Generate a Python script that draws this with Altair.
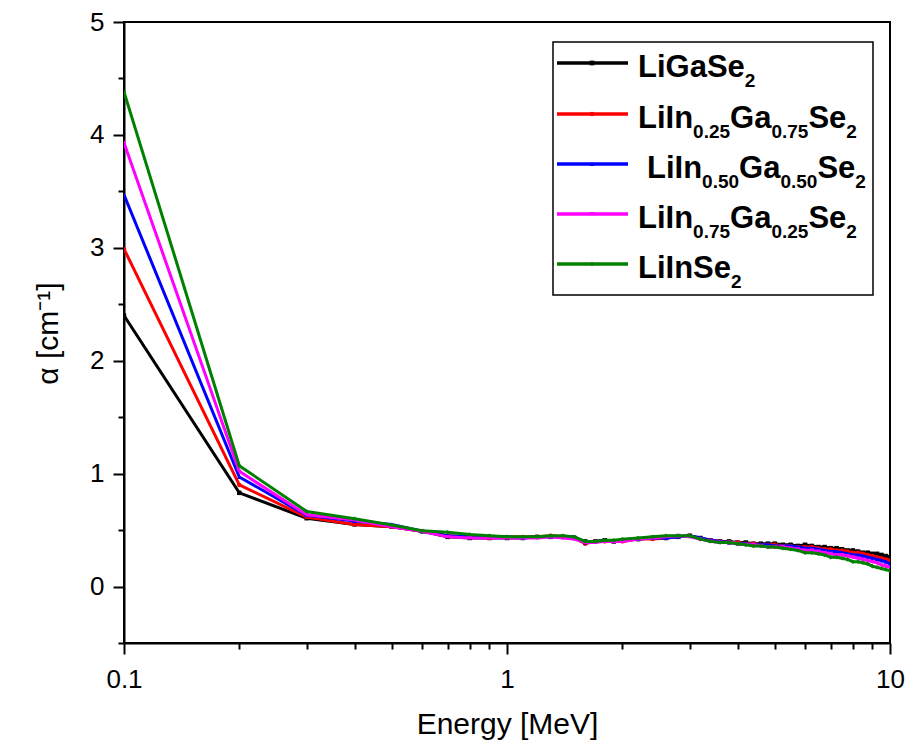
import altair as alt
import pandas as pd

# ---------------- data ----------------
energy = [0.1, 0.2, 0.3, 0.4, 0.5, 0.6, 0.7, 0.8, 0.9, 1.0,
          1.1, 1.2, 1.3, 1.4, 1.5, 1.6, 1.7, 1.8, 1.9, 2.0,
          2.2, 2.4, 2.6, 2.8, 3.0, 3.2, 3.4, 3.6, 3.8, 4.0, 4.2, 4.4, 4.6, 4.8, 5.0,
          5.25, 5.5, 5.75, 6.0, 6.25, 6.5, 6.75, 7.0, 7.25, 7.5, 7.75, 8.0, 8.25,
          8.5, 8.75, 9.0, 9.25, 9.5, 9.75, 10.0]

ligase2 = [2.40, 0.83, 0.605, 0.55, 0.53, 0.49, 0.44, 0.43, 0.43, 0.43,
           0.43, 0.44, 0.44, 0.44, 0.43, 0.40, 0.40, 0.41, 0.40, 0.41,
           0.42, 0.43, 0.43, 0.44, 0.45, 0.43, 0.41, 0.40, 0.40, 0.39, 0.39, 0.38, 0.38, 0.38, 0.38,
           0.37, 0.37, 0.36, 0.37, 0.36, 0.35, 0.35, 0.34, 0.34, 0.33, 0.32, 0.32, 0.31,
           0.30, 0.30, 0.29, 0.29, 0.28, 0.27, 0.26]

li_in025 = [2.99, 0.90, 0.615, 0.55, 0.53, 0.49, 0.45, 0.44, 0.43, 0.44,
            0.44, 0.44, 0.45, 0.44, 0.43, 0.38, 0.40, 0.40, 0.40, 0.40,
            0.42, 0.42, 0.43, 0.44, 0.45, 0.42, 0.41, 0.40, 0.39, 0.39, 0.38, 0.38, 0.37, 0.37, 0.37,
            0.36, 0.36, 0.35, 0.35, 0.35, 0.34, 0.33, 0.33, 0.32, 0.32, 0.31, 0.30, 0.30,
            0.29, 0.28, 0.27, 0.26, 0.25, 0.24, 0.23]

li_in050 = [3.47, 0.97, 0.63, 0.58, 0.55, 0.49, 0.45, 0.44, 0.44, 0.44,
            0.43, 0.44, 0.44, 0.44, 0.44, 0.39, 0.40, 0.41, 0.40, 0.41,
            0.42, 0.43, 0.43, 0.44, 0.45, 0.43, 0.41, 0.40, 0.39, 0.38, 0.38, 0.37, 0.37, 0.37, 0.36,
            0.36, 0.36, 0.35, 0.34, 0.34, 0.33, 0.32, 0.31, 0.31, 0.30, 0.29, 0.28, 0.28,
            0.27, 0.26, 0.25, 0.24, 0.23, 0.22, 0.20]

li_in075 = [3.93, 1.02, 0.635, 0.59, 0.53, 0.49, 0.44, 0.43, 0.43, 0.43,
            0.43, 0.43, 0.44, 0.43, 0.42, 0.39, 0.39, 0.40, 0.40, 0.40,
            0.42, 0.43, 0.44, 0.45, 0.44, 0.42, 0.40, 0.39, 0.39, 0.38, 0.37, 0.37, 0.36, 0.35, 0.35,
            0.35, 0.34, 0.33, 0.32, 0.32, 0.31, 0.30, 0.29, 0.28, 0.28, 0.27, 0.26, 0.25,
            0.24, 0.23, 0.22, 0.21, 0.19, 0.18, 0.17]

liinse2 = [4.38, 1.07, 0.665, 0.60, 0.545, 0.495, 0.48, 0.46, 0.45, 0.44,
           0.44, 0.44, 0.45, 0.45, 0.44, 0.40, 0.40, 0.41, 0.41, 0.42,
           0.43, 0.44, 0.45, 0.45, 0.45, 0.42, 0.40, 0.39, 0.39, 0.38, 0.37, 0.36, 0.36, 0.35, 0.35,
           0.34, 0.33, 0.32, 0.30, 0.30, 0.29, 0.28, 0.26, 0.26, 0.25, 0.24, 0.22, 0.22,
           0.21, 0.20, 0.18, 0.17, 0.16, 0.15, 0.14]

series_names = ["LiGaSe2", "LiIn0.25Ga0.75Se2", "LiIn0.50Ga0.50Se2", "LiIn0.75Ga0.25Se2", "LiInSe2"]
series_values = [ligase2, li_in025, li_in050, li_in075, liinse2]
colors = ["#000000", "#FF0000", "#0000FF", "#FF00FF", "#008000"]
shapes = ["square", "circle", "triangle-up", "triangle-down", "diamond"]

# legend label pieces: (text, is_subscript)
legend_pieces = [
    [("LiGaSe", False), ("2", True)],
    [("LiIn", False), ("0.25", True), ("Ga", False), ("0.75", True), ("Se", False), ("2", True)],
    [("LiIn", False), ("0.50", True), ("Ga", False), ("0.50", True), ("Se", False), ("2", True)],
    [("LiIn", False), ("0.75", True), ("Ga", False), ("0.25", True), ("Se", False), ("2", True)],
    [("LiInSe", False), ("2", True)],
]

x_tick_values = [0.1, 0.2, 0.3, 0.4, 0.5, 0.6, 0.7, 0.8, 0.9,
                 1, 2, 3, 4, 5, 6, 7, 8, 9, 10]
y_tick_values = [-0.5, 0, 0.5, 1, 1.5, 2, 2.5, 3, 3.5, 4, 4.5, 5]

# ---------------- build table ----------------
rows = []
for k, (name, vals) in enumerate(zip(series_names, series_values)):
    for e, v in zip(energy, vals):
        rows.append({"E": e, "alpha": v, "series": name, "k": k})
df = pd.DataFrame(rows)

W, H = 766, 621
FONT = "Liberation Sans"
LABEL_FS = 26
TITLE_FS = 30

x_axis = alt.Axis(
    values=x_tick_values,
    labelExpr="datum.value == 0.1 ? '0.1' : (datum.value == 1 ? '1' : (datum.value == 10 ? '10' : ''))",
    tickSize={"condition": {"test": "indexof([0.1, 1, 10], datum.value) >= 0", "value": 11}, "value": 6},
    labelPadding=12, labelFlush=False, labelOverlap=False,
    labelFont=FONT, labelFontSize=LABEL_FS, labelColor="black",
    title="Energy [MeV]", titleX=W / 2, titleY=90, titleBaseline="alphabetic",
    titleFont=FONT, titleFontSize=TITLE_FS, titleFontWeight="normal", titleColor="black",
)
y_axis = alt.Axis(
    values=y_tick_values,
    labelExpr="datum.value % 1 == 0 ? format(datum.value, 'd') : ''",
    tickSize={"condition": {"test": "datum.value % 1 == 0", "value": 11}, "value": 6},
    labelPadding=9, labelFlush=False, labelOverlap=False,
    labelFont=FONT, labelFontSize=LABEL_FS, labelColor="black",
    title="α [cm⁻¹]", titleX=-67, titleY=311, titleAngle=270,
    titleAlign="center", titleBaseline="alphabetic",
    titleFont=FONT, titleFontSize=TITLE_FS, titleFontWeight="normal", titleColor="black",
)

x_enc = alt.X("E:Q", scale=alt.Scale(type="log", domain=[0.1, 10], nice=False), axis=x_axis)
y_enc = alt.Y("alpha:Q", scale=alt.Scale(domain=[-0.5, 5], nice=False, zero=False), axis=y_axis)

layers = []
for k, name in enumerate(series_names):
    base = alt.Chart(df).transform_filter(alt.datum.k == k)
    layers.append(base.mark_line(strokeWidth=3, color=colors[k], clip=True).encode(x=x_enc, y=y_enc))
    layers.append(base.mark_point(filled=True, size=20, opacity=1, color=colors[k],
                                  shape=shapes[k], clip=True).encode(x=x_enc, y=y_enc))

# ---------------- custom legend (subscripts) ----------------
BOLD_W = {'L': 611, 'i': 278, 'G': 778, 'a': 556, 'S': 667, 'e': 556, 'I': 278,
          'n': 611, '0': 556, '1': 556, '2': 556, '5': 556, '7': 556, '.': 278, ' ': 278}
MAIN, SUB = 31, 19
row_y = [41, 92, 142, 192, 242]
text_rows, line_rows = [], []
for i, pieces in enumerate(legend_pieces):
    x = 514 + (9 if i == 2 else 0)
    base_y = row_y[i] + 13.5
    for txt, is_sub in pieces:
        fs = SUB if is_sub else MAIN
        text_rows.append({"t": txt, "px": x, "py": base_y + (10 if is_sub else 0), "fs": fs})
        x += sum(BOLD_W[c] for c in txt) / 1000 * fs
    line_rows.append({"x1": 433, "x2": 504, "xm": 468, "y": row_y[i],
                      "c": colors[i], "sh": shapes[i]})
tdf = pd.DataFrame(text_rows)
ldf = pd.DataFrame(line_rows)

box = alt.Chart(pd.DataFrame({"k": [0]})).mark_rect(
    fill="white", stroke="black", strokeWidth=1.5
).encode(x=alt.value(429), x2=alt.value(749), y=alt.value(20), y2=alt.value(273))

leg_lines = alt.Chart(ldf).mark_rule(strokeWidth=3.5).encode(
    x=alt.X("x1:Q", scale=None, axis=None), x2="x2:Q",
    y=alt.Y("y:Q", scale=None, axis=None),
    color=alt.Color("c:N", scale=None, legend=None),
)
leg_pts = alt.Chart(ldf).mark_point(filled=True, size=22, opacity=1).encode(
    x=alt.X("xm:Q", scale=None, axis=None),
    y=alt.Y("y:Q", scale=None, axis=None),
    color=alt.Color("c:N", scale=None, legend=None),
    shape=alt.Shape("sh:N", scale=None, legend=None),
)
leg_text = alt.Chart(tdf).mark_text(
    align="left", baseline="alphabetic", font=FONT, fontWeight="bold", color="black"
).encode(
    x=alt.X("px:Q", scale=None, axis=None),
    y=alt.Y("py:Q", scale=None, axis=None),
    text="t:N",
    size=alt.Size("fs:Q", scale=None, legend=None),
)

chart = alt.layer(*layers, box, leg_lines, leg_pts, leg_text).properties(
    width=W, height=H,
    autosize=alt.AutoSizeParams(type="none"),
    padding={"left": 124, "top": 22, "right": 17, "bottom": 97},
    background="white",
).configure_view(
    stroke="black", strokeWidth=2
).configure_axis(
    grid=False, domainColor="black", domainWidth=2, tickColor="black", tickWidth=2,
)

chart.save("out.html", embed_options={"renderer": "svg", "actions": False})
